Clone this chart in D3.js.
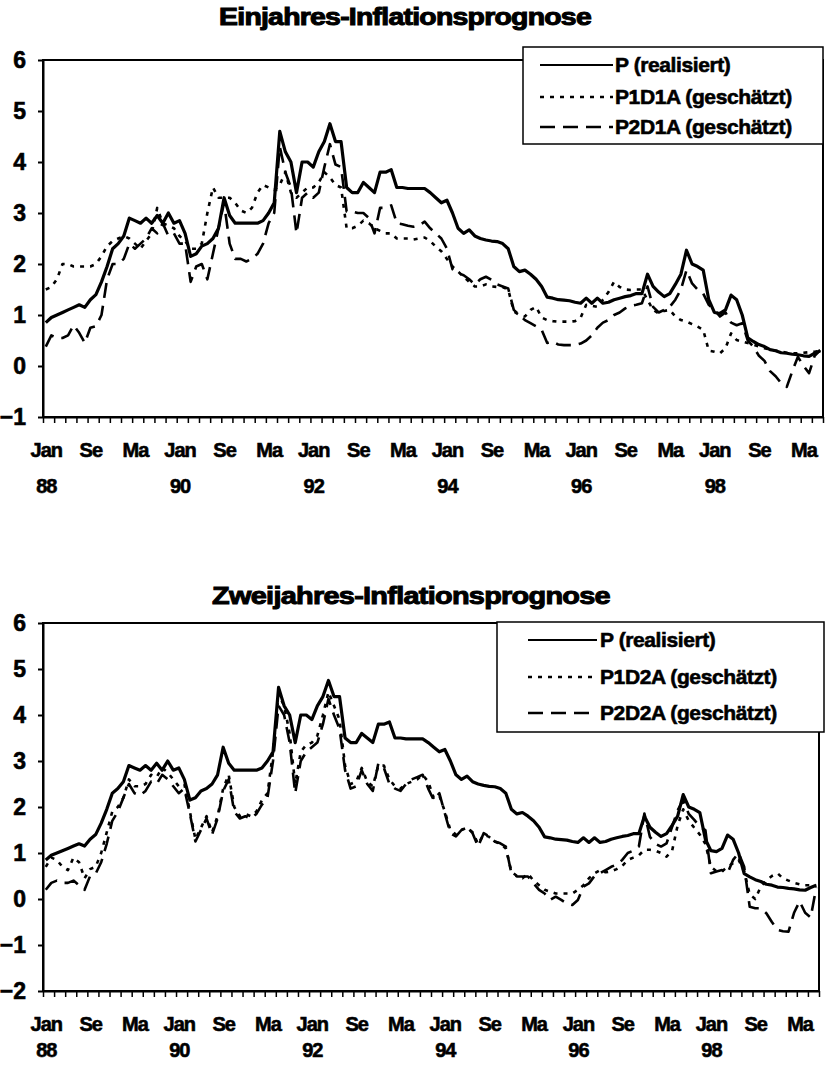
<!DOCTYPE html>
<html>
<head>
<meta charset="utf-8">
<script src="https://cdn.jsdelivr.net/npm/d3@7"></script>
<style>
body { margin: 0; background: #fff; }
svg text { font-family: "Liberation Sans", Arial, sans-serif; font-weight: bold; fill: #000; stroke: #000; stroke-width: 0.6px; }
</style>
</head>
<body>
<script>
// monthly values, Jan 88 .. Aug 99
const P = [0.85,0.95,1.0,1.05,1.1,1.15,1.2,1.15,1.3,1.4,
    1.65,1.95,2.3,2.4,2.55,2.9,2.85,2.8,2.9,2.8,
    2.95,2.8,3.0,2.8,2.85,2.6,2.15,2.2,2.35,2.4,
    2.5,2.7,3.3,2.95,2.8,2.8,2.8,2.8,2.8,2.85,
    3.0,3.2,4.6,4.2,4.0,3.4,4.0,4.0,3.9,4.2,
    4.4,4.75,4.4,4.4,3.5,3.4,3.4,3.6,3.5,3.4,
    3.8,3.8,3.85,3.5,3.5,3.48,3.48,3.48,3.48,3.4,
    3.3,3.2,3.25,3.0,2.7,2.6,2.67,2.55,2.5,2.47,
    2.45,2.44,2.4,2.3,1.95,1.85,1.88,1.8,1.7,1.56,
    1.35,1.33,1.3,1.29,1.28,1.25,1.23,1.33,1.23,1.33,
    1.23,1.25,1.3,1.33,1.36,1.38,1.42,1.42,1.8,1.56,
    1.45,1.36,1.42,1.6,1.8,2.27,2.0,1.95,1.88,1.3,
    1.05,1.03,1.1,1.39,1.3,1.0,0.55,0.48,0.42,0.38,
    0.32,0.3,0.26,0.25,0.23,0.22,0.2,0.19,0.25,0.3];

const P1D1A = [1.5,1.55,1.7,2.0,2.0,1.95,1.95,1.95,1.95,2.0,
    2.15,2.35,2.45,2.5,2.55,2.5,2.4,2.3,2.45,2.6,
    3.1,2.8,2.75,2.7,2.55,2.45,2.3,2.3,2.4,3.0,
    3.5,3.3,3.3,3.3,3.2,3.05,3.0,3.1,3.4,3.55,
    3.5,3.45,3.55,3.8,3.4,3.3,3.4,3.5,3.5,3.6,
    3.8,3.7,3.55,3.5,2.7,2.7,2.75,2.85,2.8,2.7,
    2.65,2.6,2.6,2.5,2.5,2.5,2.48,2.5,2.52,2.45,
    2.34,2.25,2.1,1.95,1.85,1.75,1.65,1.56,1.56,1.6,
    1.56,1.55,1.55,1.5,1.07,1.0,0.97,1.1,1.16,0.95,
    0.9,0.88,0.87,0.87,0.87,0.88,0.95,1.2,1.18,1.16,
    1.3,1.45,1.65,1.55,1.5,1.49,1.5,1.5,1.3,1.1,
    1.03,1.08,1.1,0.97,0.9,0.87,0.82,0.77,0.71,0.3,
    0.28,0.25,0.35,0.64,0.51,0.48,0.45,0.42,0.38,0.35,
    0.32,0.3,0.28,0.26,0.25,0.25,0.26,0.27,0.28,0.3];

const P2D1A = [0.38,0.6,0.55,0.55,0.6,0.8,0.65,0.45,0.75,0.78,
    1.0,1.7,2.0,2.0,2.1,2.4,2.3,2.4,2.5,2.7,
    2.6,2.8,2.55,2.6,2.4,2.4,1.65,1.95,2.0,1.7,
    2.2,2.7,3.2,2.4,2.1,2.1,2.05,2.1,2.2,2.4,
    2.8,3.0,4.3,3.8,3.5,2.6,3.3,3.4,3.3,3.4,
    3.9,4.35,3.95,3.9,3.03,3.03,3.0,3.0,2.9,2.6,
    3.1,3.1,3.15,2.8,2.78,2.75,2.73,2.76,2.83,2.7,
    2.6,2.5,2.3,1.9,1.82,1.78,1.7,1.6,1.7,1.75,
    1.69,1.6,1.56,1.52,1.1,1.0,0.9,0.84,0.78,0.71,
    0.45,0.48,0.42,0.41,0.41,0.41,0.44,0.5,0.6,0.75,
    0.85,0.9,1.0,1.05,1.13,1.18,1.2,1.23,1.56,1.16,
    1.05,1.1,1.16,1.3,1.5,1.88,1.62,1.5,1.42,1.2,
    1.1,0.97,1.05,0.85,0.8,0.84,0.5,0.38,0.2,0.1,
    -0.1,-0.2,-0.34,-0.41,-0.1,0.18,0.0,-0.14,0.2,0.31];

const P1D2A = [0.7,0.9,0.85,0.7,0.63,0.9,0.8,0.45,0.65,0.7,
    1.0,1.45,1.9,2.0,2.2,2.6,2.45,2.45,2.5,2.7,
    2.65,2.85,2.75,2.6,2.45,2.5,1.9,1.3,1.55,1.8,
    1.45,1.8,2.4,2.7,2.0,1.8,1.85,1.8,1.9,2.15,
    2.3,3.2,4.45,4.2,3.6,2.5,3.2,3.35,3.4,3.55,
    4.0,4.5,4.2,3.9,2.9,2.5,2.55,2.85,2.55,2.45,
    2.9,2.9,2.6,2.45,2.4,2.5,2.55,2.6,2.7,2.55,
    2.2,2.25,1.9,1.5,1.4,1.5,1.55,1.45,1.2,1.4,
    1.35,1.25,1.2,1.1,0.6,0.5,0.45,0.55,0.4,0.3,
    0.2,0.16,0.12,0.12,0.12,0.12,0.2,0.3,0.45,0.56,
    0.63,0.58,0.6,0.65,0.72,0.85,0.9,0.95,1.07,1.07,
    1.05,1.0,0.92,1.05,1.6,1.95,1.7,1.55,1.4,1.2,
    0.7,0.6,0.6,0.7,0.78,0.85,0.6,0.1,0.0,0.27,
    0.4,0.5,0.56,0.45,0.4,0.35,0.32,0.3,0.3,0.3];

const P2D2A = [0.2,0.35,0.4,0.35,0.35,0.4,0.3,0.2,0.5,0.55,
    0.8,1.2,1.7,1.9,2.2,2.5,2.3,2.25,2.35,2.55,
    2.5,2.7,2.6,2.45,2.3,2.4,1.85,1.25,1.5,1.75,
    1.4,1.75,2.35,2.6,1.9,1.75,1.8,1.75,1.85,2.05,
    2.2,3.0,4.2,4.0,3.4,2.3,3.0,3.2,3.3,3.4,
    3.8,4.35,4.0,3.7,2.8,2.4,2.45,2.8,2.5,2.35,
    2.95,2.85,2.5,2.4,2.35,2.5,2.6,2.65,2.7,2.4,
    2.15,2.3,1.86,1.43,1.36,1.5,1.57,1.43,1.14,1.43,
    1.36,1.25,1.21,1.14,0.56,0.49,0.49,0.49,0.34,0.2,
    0.12,-0.02,0.05,-0.02,-0.1,-0.13,-0.02,0.27,0.34,0.5,
    0.56,0.63,0.7,0.75,0.85,1.0,1.05,1.14,1.86,1.35,
    1.2,1.14,1.21,1.57,1.93,2.15,1.85,1.72,1.57,1.5,
    0.56,0.6,0.63,0.56,0.85,1.0,0.7,-0.17,-0.2,-0.2,
    -0.31,-0.5,-0.67,-0.7,-0.71,-0.3,-0.05,-0.3,-0.4,0.25];

const monthLabels = ['Jan','Se','Ma','Jan','Se','Ma','Jan','Se','Ma',
    'Jan','Se','Ma','Jan','Se','Ma','Jan','Se','Ma'];
const yearLabels = ['88','90','92','94','96','98'];
const nMonths = 140;

const styles = [
    {width: 3.2, dash: null},
    {width: 2.6, dash: '4,6'},
    {width: 2.6, dash: '15,8'}
];

const svg = d3.select('body').append('svg')
    .attr('width', 825)
    .attr('height', 1071);

function drawPanel(cfg) {
    let x = d3.scaleLinear().domain([0, nMonths]).range([cfg.x0, cfg.x1]);
    let y = d3.scaleLinear().domain(cfg.yDomain).range([cfg.yBot, cfg.yTop]);

    let g = svg.append('g');

    // title, widened to the width seen in the scan
    let title = g.append('text')
        .attr('x', 0)
        .attr('y', 0)
        .attr('text-anchor', 'middle')
        .attr('font-size', cfg.titleSize)
        .attr('letter-spacing', -0.6)
        .style('stroke-width', '1px')
        .text(cfg.title);
    let w = title.node().getComputedTextLength();
    title.attr('transform', `translate(${cfg.titleX},${cfg.titleY}) scale(${cfg.titleLen / w},1)`);

    // series
    let line = d3.line()
        .x((d, i) => x(i + 0.5))
        .y((d) => y(d));

    cfg.series.forEach((s, k) => {
        g.append('path')
            .attr('d', line(s))
            .attr('fill', 'none')
            .attr('stroke', 'black')
            .attr('stroke-width', styles[k].width)
            .attr('stroke-dasharray', styles[k].dash)
            .attr('stroke-linejoin', 'round');
    });

    // frame
    g.append('rect')
        .attr('x', cfg.x0)
        .attr('y', cfg.yTop)
        .attr('width', cfg.x1 - cfg.x0)
        .attr('height', cfg.yBot - cfg.yTop)
        .attr('fill', 'none')
        .attr('stroke', 'black')
        .attr('stroke-width', 2);

    // y axis
    let yAxis = d3.axisLeft(y)
        .tickValues(d3.range(cfg.yDomain[0], cfg.yDomain[1] + 1))
        .tickFormat(d3.format('d'))
        .tickSize(5)
        .tickSizeOuter(0)
        .tickPadding(12);
    let ya = g.append('g').attr('transform', `translate(${cfg.x0},0)`).call(yAxis);
    ya.selectAll('text').attr('font-size', 23).attr('font-family', null);
    ya.selectAll('line, path').attr('stroke-width', 2);

    // x axis minor ticks
    let xTicks = d3.axisBottom(x)
        .tickValues(d3.range(0, nMonths + 1, 2))
        .tickFormat('')
        .tickSize(6)
        .tickSizeOuter(0);
    let xa = g.append('g').attr('transform', `translate(0,${cfg.yBot})`).call(xTicks);
    xa.selectAll('line').attr('stroke-width', 1.5);
    xa.select('.domain').attr('stroke-width', 2);

    // month labels
    let xMonth = d3.axisBottom(x)
        .tickValues(monthLabels.map((m, k) => k * 8 + 0.5))
        .tickFormat((d, k) => monthLabels[k])
        .tickSize(0)
        .tickPadding(cfg.monthPad);
    let xm = g.append('g').attr('transform', `translate(0,${cfg.yBot})`).call(xMonth);
    xm.select('.domain').remove();
    xm.selectAll('text').attr('font-size', 20).attr('font-family', null).attr('letter-spacing', -1);

    // year labels
    let xYear = d3.axisBottom(x)
        .tickValues(yearLabels.map((m, k) => k * 24 + 0.5))
        .tickFormat((d, k) => yearLabels[k])
        .tickSize(0)
        .tickPadding(cfg.yearPad);
    let xy = g.append('g').attr('transform', `translate(0,${cfg.yBot})`).call(xYear);
    xy.select('.domain').remove();
    xy.selectAll('text').attr('font-size', 20).attr('font-family', null).attr('letter-spacing', -1);

    // legend
    let lg = cfg.legend;
    g.append('rect')
        .attr('x', lg.x)
        .attr('y', lg.y)
        .attr('width', lg.w)
        .attr('height', lg.h)
        .attr('fill', 'white')
        .attr('stroke', 'black')
        .attr('stroke-width', 1.5);

    cfg.names.forEach((name, k) => {
        g.append('line')
            .attr('x1', lg.lineX0)
            .attr('x2', lg.lineX1)
            .attr('y1', lg.rows[k])
            .attr('y2', lg.rows[k])
            .attr('stroke', 'black')
            .attr('stroke-width', k == 0 ? 2 : 2.5)
            .attr('stroke-dasharray', styles[k].dash);
        g.append('text')
            .attr('x', lg.textX)
            .attr('y', lg.rows[k])
            .attr('dy', '0.35em')
            .attr('font-size', 21)
            .attr('letter-spacing', -0.4)
            .text(name);
    });
}

drawPanel({
    title: 'Einjahres-Inflationsprognose',
    titleX: 405, titleY: 25, titleSize: 23, titleLen: 372,
    x0: 43, x1: 823, yTop: 60, yBot: 417, yDomain: [-1, 6],
    monthPad: 26, yearPad: 62,
    series: [P, P1D1A, P2D1A],
    names: ['P (realisiert)', 'P1D1A (geschätzt)', 'P2D1A (geschätzt)'],
    legend: {x: 523, y: 47, w: 300, h: 97, rows: [65, 97, 127], lineX0: 540, lineX1: 613, textX: 615}
});

drawPanel({
    title: 'Zweijahres-Inflationsprognose',
    titleX: 411, titleY: 604, titleSize: 24, titleLen: 398,
    x0: 43, x1: 819, yTop: 623, yBot: 991, yDomain: [-2, 6],
    monthPad: 26, yearPad: 52,
    series: [P, P1D2A, P2D2A],
    names: ['P (realisiert)', 'P1D2A (geschätzt)', 'P2D2A (geschätzt)'],
    legend: {x: 497, y: 622, w: 327, h: 110, rows: [640, 677, 713], lineX0: 528, lineX1: 597, textX: 600}
});
</script>
</body>
</html>
